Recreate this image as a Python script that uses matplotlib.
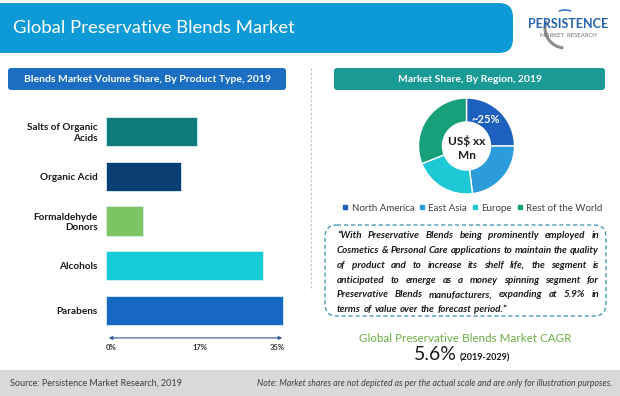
import matplotlib
matplotlib.use('Agg')
import matplotlib.pyplot as plt
from matplotlib.patches import FancyBboxPatch, Rectangle, Arc
from matplotlib.lines import Line2D

plt.rcParams['font.family'] = ['Lato', 'DejaVu Sans']

# bar chart data (top to bottom)
products = ['Salts of Organic\nAcids', 'Organic Acid', 'Formaldehyde\nDonors', 'Alcohols', 'Parabens']
volume_share = [17.8, 14.7, 7.2, 30.7, 34.6]
bar_colors = ['#0F7B7B', '#0B3F73', '#7DC462', '#14CCD6', '#1668C4']
x_ticks = [0, 17, 35]
x_tick_labels = ['0%', '17%', '35%']

# donut data
regions = ['North America', 'East Asia', 'Europe', 'Rest of the World']
region_share = [25, 23, 21, 31]
region_colors = ['#1E60BE', '#2C9BD9', '#1EC8D5', '#18A07B']

quote_lines = [
    '\u201cWith Preservative Blends being prominently employed in',
    'Cosmetics & Personal Care applications to maintain the quality',
    'of product and to increase its shelf life, the segment is',
    'anticipated to emerge as a money spinning segment for',
    'Preservative Blends manufacturers, expanding at 5.9% in',
    'terms of value over the forecast period.\u201d',
]

fig = plt.figure(figsize=(6.2, 3.96), dpi=100)
fig.patch.set_facecolor('white')

# background layer in pixel coordinates
bg = fig.add_axes([0, 0, 1, 1])
bg.set_xlim(0, 620)
bg.set_ylim(396, 0)
bg.axis('off')

# header banner
bg.add_patch(FancyBboxPatch((-30, 3), 543, 50, boxstyle='round,pad=0,rounding_size=14',
                            fc='#0D9AD6', ec='none'))
bg.text(13, 28, 'Global Preservative Blends Market', color='white', fontsize=13.3, va='center')

# logo
bg.add_patch(Arc((565, 28), 40, 40, theta1=95, theta2=200, color='#8C8C8C', lw=2.2))
bg.add_patch(Arc((565, 28), 36, 36, theta1=250, theta2=290, color='#3A7CC4', lw=1.2))
bg.text(568, 24, 'PERSISTENCE', color='#2463B0', fontsize=9, fontweight='bold',
        ha='center', va='center', family=['Liberation Sans Narrow', 'Lato'])
bg.text(568, 35.5, 'MARKET  RESEARCH', color='#707070', fontsize=4.3, ha='center', va='center')

# section headers
bg.add_patch(FancyBboxPatch((8, 68), 278, 22, boxstyle='round,pad=0,rounding_size=3',
                            fc='#1B6EC2', ec='none'))
bg.text(147, 79.5, 'Blends Market Volume Share, By Product Type, 2019', color='white',
        fontsize=7.5, fontweight='bold', ha='center', va='center')
bg.add_patch(FancyBboxPatch((334, 68), 271, 22, boxstyle='round,pad=0,rounding_size=3',
                            fc='#1A9A94', ec='none'))
bg.text(469.5, 79.5, 'Market Share, By Region, 2019', color='white',
        fontsize=7.5, fontweight='bold', ha='center', va='center')

bg.plot([311, 311], [68, 290], color='#C0C0C0', lw=0.8, ls=(0, (2, 2)))

# bar chart
ax = fig.add_axes([106 / 620, (396 - 333) / 396, 179 / 620, 224 / 396])
ax.patch.set_alpha(0)
ax.barh(range(len(products)), volume_share, height=0.65, color=bar_colors,
        edgecolor='#D8EEF4', linewidth=0.6)
ax.set_xlim(0, 35)
ax.set_ylim(len(products) - 0.5, -0.5)
ax.set_yticks(range(len(products)), products, fontsize=7.2, fontweight='bold', color='#1A1A1A')
ax.set_xticks(x_ticks, x_tick_labels, fontsize=5.5, fontweight='bold', color='#333333')
ax.tick_params(axis='y', length=0, pad=6)
ax.tick_params(axis='x', length=0, pad=8)
for side in ax.spines.values():
    side.set_visible(False)
xl = ax.get_xticklabels()
xl[0].set_ha('left')
xl[1].set_ha('left')
xl[2].set_ha('right')
ax.annotate('', xy=(35, -0.022), xytext=(0, -0.022), xycoords=('data', 'axes fraction'),
            textcoords=('data', 'axes fraction'), annotation_clip=False,
            arrowprops=dict(arrowstyle='<|-|>', color='#2F5597', lw=0.8, mutation_scale=5))

# donut
pax = fig.add_axes([418.5 / 620, (396 - 194) / 396, 96 / 620, 96 / 396])
wedges, _ = pax.pie(region_share, colors=region_colors, startangle=90, counterclock=False,
                    radius=1, wedgeprops=dict(width=0.5, edgecolor='white', linewidth=1))
pax.set_xlim(-1, 1)
pax.set_ylim(-1, 1)
pax.set_aspect('equal')
pax.text(0.4, 0.56, '~25%', color='white', fontsize=8, fontweight='bold', ha='center', va='center')
pax.text(0, -0.04, 'US$ xx\nMn', color='#1A1A1A', fontsize=8.5, fontweight='bold',
         ha='center', va='center', linespacing=1.3)

handles = [Line2D([], [], marker='s', ls='none', color=c, markersize=3.5) for c in region_colors]
fig.legend(handles, regions, loc='center', bbox_to_anchor=(472 / 620, 1 - 208 / 396), ncol=4,
           frameon=False, fontsize=7, handlelength=0.7, handletextpad=0.3,
           columnspacing=0.45, borderpad=0, labelcolor='#404040')

# quote box
bg.add_patch(FancyBboxPatch((325, 225), 281, 91, boxstyle='round,pad=0,rounding_size=12',
                            fc='none', ec='#4E9BB5', lw=1, ls=(0, (3, 2))))
renderer = fig.canvas.get_renderer()
qstyle = dict(fontsize=7.1, fontweight='bold', style='italic', color='#1A1A1A', va='center')
x0, x1 = 337, 599
for i, line in enumerate(quote_lines):
    y = 236 + i * 14.7
    words = line.split()
    texts = [bg.text(0, y, w, **qstyle) for w in words]
    widths = [t.get_window_extent(renderer).width for t in texts]
    if i == len(quote_lines) - 1:
        gap = 2.8
    else:
        gap = (x1 - x0 - sum(widths)) / (len(words) - 1)
    x = x0
    for t, w in zip(texts, widths):
        t.set_x(x)
        x += w + gap

# CAGR
bg.text(465, 338, 'Global Preservative Blends Market CAGR', color='#6AAE45', fontsize=8.4,
        ha='center', va='center')
bg.text(457, 360, '5.6%', color='#1A1A1A', fontsize=14, ha='right', va='baseline')
bg.text(460, 360, '(2019-2029)', color='#1A1A1A', fontsize=6.5, fontweight='bold',
        ha='left', va='baseline')

# footer
bg.add_patch(Rectangle((0, 370), 620, 26, fc='#D9D9D9', ec='none'))
bg.text(10, 383, 'Source: Persistence Market Research, 2019', color='#404040', fontsize=6.5,
        va='center')
bg.text(612, 383, 'Note: Market shares are not depicted as per the actual scale and are only '
        'for illustration purposes.', color='#404040', fontsize=6.3, style='italic',
        ha='right', va='center')

fig.savefig('out.png', dpi=100)
